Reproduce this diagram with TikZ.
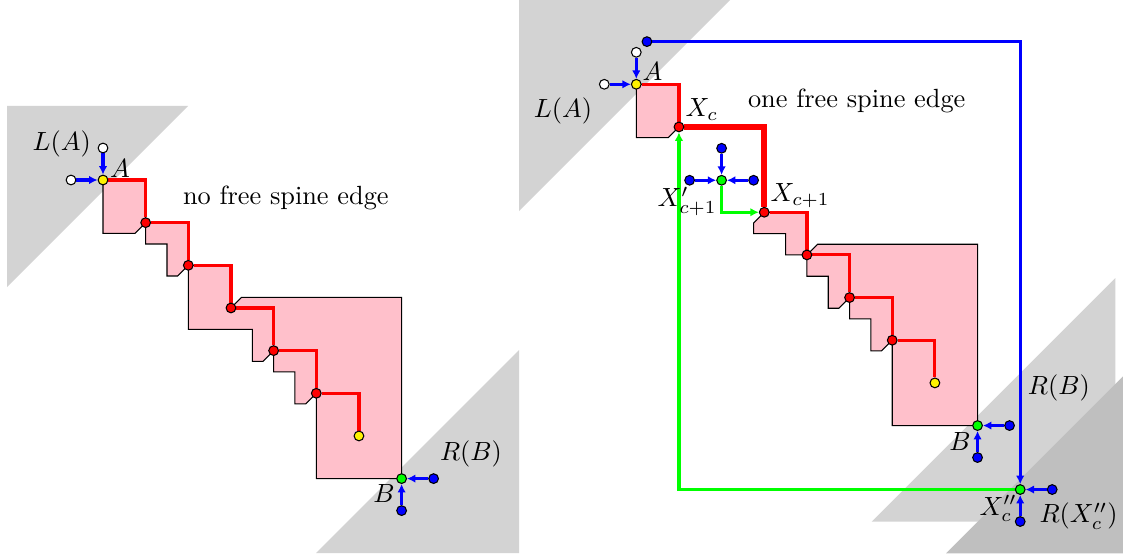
\documentclass[tikz,border=0pt]{standalone}
\usetikzlibrary{arrows.meta}
\definecolor{pinkfill}{RGB}{255,192,203}
\definecolor{lgray}{RGB}{211,211,211}
\definecolor{dgray}{RGB}{191,191,191}
\pgfdeclarelayer{gbg}
\pgfdeclarelayer{bg}
\pgfsetlayers{gbg,bg,main}
\begin{document}
\begin{tikzpicture}[x=0.38pt,y=-0.38pt,
  dot/.style={circle,draw=black,line width=0.4pt,inner sep=0pt,minimum size=3.7pt},
  ydot/.style={dot,fill=yellow},
  rdot/.style={dot,fill=red},
  gdot/.style={dot,fill=green},
  bdot/.style={dot,fill=blue},
  wdot/.style={dot,fill=white},
  spine/.style={red,line width=1.2pt},
  fspine/.style={red,line width=2.2pt},
  blk/.style={fill=pinkfill,draw=black,line width=0.4pt},
  barrow/.style={blue,line width=1.2pt,-{Latex[length=3.2pt,width=3.2pt]}},
  garrow/.style={green,line width=1.2pt,-{Latex[length=3.2pt,width=3.2pt]}},
  lbl/.style={inner sep=0pt},
  shade1/.style={fill=lgray},
  shade2/.style={fill=dgray}]
\useasboundingbox (0,0) rectangle (1123,558);

% ---------------- gray regions ----------------
\begin{pgfonlayer}{gbg}
  \fill[shade1] (7,106) -- (188,106) -- (7,287) -- cycle;
  \fill[shade1] (316,553) -- (519,553) -- (519,350) -- cycle;
  \fill[shade1] (519,0) -- (730,0) -- (519,211) -- cycle;
  \fill[shade1] (871.7,521.7) -- (1115.3,521.7) -- (1115.3,278) -- cycle;
  \fill[shade2] (946,553.3) -- (1123,553.3) -- (1123,376.3) -- cycle;
\end{pgfonlayer}

% ---------------- left figure ----------------
\begin{scope}[xshift=39.14pt,yshift=-68.4pt,x=16.21pt,y=-16.21pt]
  \node[ydot] (lA) at (0,0) {};
  \node[rdot] (l1) at (1,1) {};
  \node[rdot] (l2) at (2,2) {};
  \node[rdot] (l3) at (3,3) {};
  \node[rdot] (l4) at (4,4) {};
  \node[rdot] (l5) at (5,5) {};
  \node[ydot] (lE) at (6,6) {};
  \node[gdot] (lB) at (7,7) {};
  \node[wdot] (lw1) at (0,-0.75) {};
  \node[wdot] (lw2) at (-0.75,0) {};
  \node[bdot] (lb1) at (7.75,7) {};
  \node[bdot] (lb2) at (7,7.75) {};
  \begin{pgfonlayer}{bg}
    \draw[blk] (0,0)--(1,0)--(1,1)--(0.75,1.25)--(0,1.25)--cycle;
    \draw[blk] (1,1)--(2,1)--(2,2)--(1.75,2.25)--(1.5,2.25)--(1.5,1.5)--(1,1.5)--cycle;
    \draw[blk] (2,2)--(3,2)--(3,3)--(3.25,2.75)--(7,2.75)--(7,7)--(5,7)--(5,5)--(4.75,5.25)--(4.5,5.25)--(4.5,4.5)--(4,4.5)--(4,4)--(3.75,4.25)--(3.5,4.25)--(3.5,3.5)--(2,3.5)--cycle;
    \draw[spine] (lA) -| (l1) -| (l2) -| (l3) -| (l4) -| (l5) -| (lE);
    \draw[barrow] (lw1) -- (lA);
    \draw[barrow] (lw2) -- (lA);
    \draw[barrow] (lb1) -- (lB);
    \draw[barrow] (lb2) -- (lB);
  \end{pgfonlayer}
\end{scope}

% ---------------- right figure ----------------
\begin{scope}[xshift=241.79pt,yshift=-32.03pt,x=16.21pt,y=-16.21pt]
  \node[ydot] (rA) at (0,0) {};
  \node[rdot] (rXc) at (1,1) {};
  \node[rdot] (rXc1) at (3,3) {};
  \node[rdot] (r4) at (4,4) {};
  \node[rdot] (r5) at (5,5) {};
  \node[rdot] (r6) at (6,6) {};
  \node[ydot] (rE) at (7,7) {};
  \node[gdot] (rB) at (8,8) {};
  \node[gdot] (rXpp) at (9,9.5) {};
  \node[gdot] (rXp) at (2,2.25) {};
  \node[wdot] (rw1) at (0,-0.75) {};
  \node[wdot] (rw2) at (-0.75,0) {};
  \node[bdot] (rtop) at (0.25,-1) {};
  \node[bdot] (rb1) at (8.75,8) {};
  \node[bdot] (rb2) at (8,8.75) {};
  \node[bdot] (rx1) at (9.75,9.5) {};
  \node[bdot] (rx2) at (9,10.25) {};
  \node[bdot] (rp1) at (2,1.5) {};
  \node[bdot] (rp2) at (1.25,2.25) {};
  \node[bdot] (rp3) at (2.75,2.25) {};
  \begin{pgfonlayer}{bg}
    \draw[blk] (0,0)--(1,0)--(1,1)--(0.75,1.25)--(0,1.25)--cycle;
    \draw[blk] (3,3)--(4,3)--(4,4)--(3.5,4)--(3.5,3.5)--(2.75,3.5)--(2.75,3.25)--cycle;
    \draw[blk] (4,4)--(4.25,3.75)--(8,3.75)--(8,8)--(6,8)--(6,6)--(5.75,6.25)--(5.5,6.25)--(5.5,5.5)--(5,5.5)--(5,5)--(4.75,5.25)--(4.5,5.25)--(4.5,4.5)--(4,4.5)--cycle;
    \draw[spine] (rA) -| (rXc);
    \draw[fspine] (rXc) -| (rXc1);
    \draw[spine] (rXc1) -| (r4) -| (r5) -| (r6) -| (rE);
    \draw[barrow] (rtop) -| (rXpp);
    \draw[garrow] (rXpp) -| (rXc);
    \draw[garrow] (rXp) |- (rXc1);
    \draw[barrow] (rw1) -- (rA);
    \draw[barrow] (rw2) -- (rA);
    \draw[barrow] (rb1) -- (rB);
    \draw[barrow] (rb2) -- (rB);
    \draw[barrow] (rx1) -- (rXpp);
    \draw[barrow] (rx2) -- (rXpp);
    \draw[barrow] (rp1) -- (rXp);
    \draw[barrow] (rp2) -- (rXp);
    \draw[barrow] (rp3) -- (rXp);
  \end{pgfonlayer}
\end{scope}

% ---------------- labels ----------------
\node[lbl] (tLAl) at (61.7,144) {$L(A)$};
\node[lbl] (tAl) at (120,169) {$A$};
\node[lbl] (tnf) at (285.8,197.5) {no free spine edge};
\node[lbl] (tRBl) at (471,454) {$R(B)$};
\node[lbl] (tBl) at (384,494) {$B$};

\node[lbl] (tLAr) at (563,111) {$L(A)$};
\node[lbl] (tAr) at (652.5,71.3) {$A$};
\node[lbl,anchor=base west] (tXc) at (685,116.7) {$X_c$};
\node[lbl] (tof) at (856.7,101.2) {one free spine edge};
\node[lbl,anchor=base west] (tXp) at (657,206.7) {$X'_{c+1}$};
\node[lbl,anchor=base west] (tXc1) at (770,201.7) {$X_{c+1}$};
\node[lbl] (tRBr) at (1058.8,388) {$R(B)$};
\node[lbl] (tBr) at (960,442) {$B$};
\node[lbl,anchor=base west] (tXpp) at (979,515) {$X''_c$};
\node[lbl,anchor=base west] (tRX) at (1039,522.7) {$R(X''_c)$};
\end{tikzpicture}
\end{document}
